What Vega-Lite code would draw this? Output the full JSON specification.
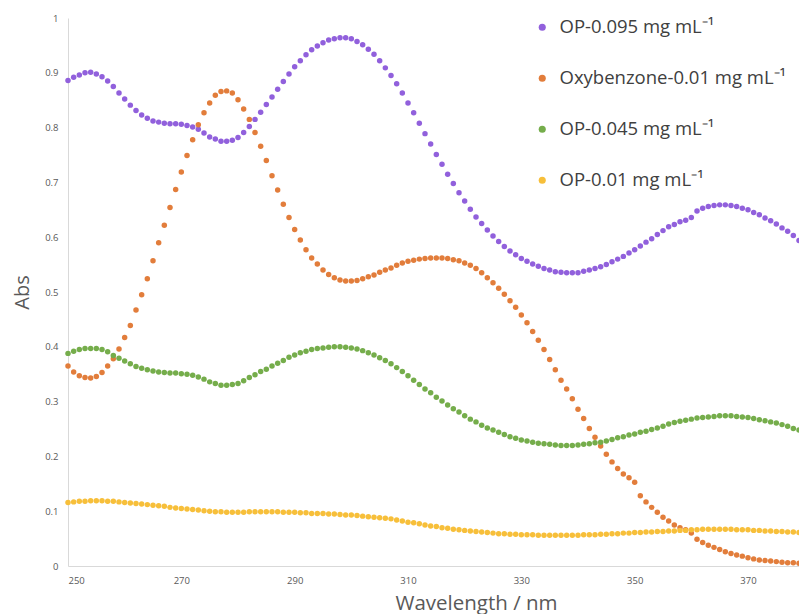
{
  "$schema": "https://vega.github.io/schema/vega-lite/v6.json",
  "width": 731,
  "height": 548,
  "autosize": "none",
  "padding": {"left": 68, "top": 18, "right": 0, "bottom": 48},
  "background": "white",
  "config": {
    "view": {"stroke": null},
    "font": "Open Sans"
  },
  "datasets": {
    "op095": [
      {"nm":250,"abs":0.886},{"nm":251,"abs":0.892},{"nm":252,"abs":0.896},{"nm":253,"abs":0.900},{"nm":254,"abs":0.901},
      {"nm":255,"abs":0.898},{"nm":256,"abs":0.893},{"nm":257,"abs":0.885},{"nm":258,"abs":0.875},{"nm":259,"abs":0.863},
      {"nm":260,"abs":0.852},{"nm":261,"abs":0.841},{"nm":262,"abs":0.831},{"nm":263,"abs":0.823},{"nm":264,"abs":0.817},
      {"nm":265,"abs":0.812},{"nm":266,"abs":0.810},{"nm":267,"abs":0.808},{"nm":268,"abs":0.807},{"nm":269,"abs":0.807},
      {"nm":270,"abs":0.806},{"nm":271,"abs":0.804},{"nm":272,"abs":0.801},{"nm":273,"abs":0.797},{"nm":274,"abs":0.790},
      {"nm":275,"abs":0.783},{"nm":276,"abs":0.779},{"nm":277,"abs":0.775},{"nm":278,"abs":0.775},{"nm":279,"abs":0.777},
      {"nm":280,"abs":0.782},{"nm":281,"abs":0.791},{"nm":282,"abs":0.802},{"nm":283,"abs":0.815},{"nm":284,"abs":0.828},
      {"nm":285,"abs":0.842},{"nm":286,"abs":0.856},{"nm":287,"abs":0.870},{"nm":288,"abs":0.884},{"nm":289,"abs":0.898},
      {"nm":290,"abs":0.911},{"nm":291,"abs":0.922},{"nm":292,"abs":0.933},{"nm":293,"abs":0.942},{"nm":294,"abs":0.949},
      {"nm":295,"abs":0.955},{"nm":296,"abs":0.960},{"nm":297,"abs":0.962},{"nm":298,"abs":0.964},{"nm":299,"abs":0.964},
      {"nm":300,"abs":0.962},{"nm":301,"abs":0.957},{"nm":302,"abs":0.951},{"nm":303,"abs":0.943},{"nm":304,"abs":0.934},
      {"nm":305,"abs":0.922},{"nm":306,"abs":0.909},{"nm":307,"abs":0.895},{"nm":308,"abs":0.880},{"nm":309,"abs":0.863},
      {"nm":310,"abs":0.845},{"nm":311,"abs":0.827},{"nm":312,"abs":0.808},{"nm":313,"abs":0.789},{"nm":314,"abs":0.770},
      {"nm":315,"abs":0.751},{"nm":316,"abs":0.733},{"nm":317,"abs":0.715},{"nm":318,"abs":0.698},{"nm":319,"abs":0.681},
      {"nm":320,"abs":0.666},{"nm":321,"abs":0.651},{"nm":322,"abs":0.637},{"nm":323,"abs":0.625},{"nm":324,"abs":0.613},
      {"nm":325,"abs":0.602},{"nm":326,"abs":0.592},{"nm":327,"abs":0.583},{"nm":328,"abs":0.575},{"nm":329,"abs":0.568},
      {"nm":330,"abs":0.561},{"nm":331,"abs":0.556},{"nm":332,"abs":0.551},{"nm":333,"abs":0.547},{"nm":334,"abs":0.543},
      {"nm":335,"abs":0.540},{"nm":336,"abs":0.537},{"nm":337,"abs":0.536},{"nm":338,"abs":0.535},{"nm":339,"abs":0.535},
      {"nm":340,"abs":0.535},{"nm":341,"abs":0.538},{"nm":342,"abs":0.540},{"nm":343,"abs":0.543},{"nm":344,"abs":0.546},
      {"nm":345,"abs":0.550},{"nm":346,"abs":0.555},{"nm":347,"abs":0.560},{"nm":348,"abs":0.565},{"nm":349,"abs":0.571},
      {"nm":350,"abs":0.577},{"nm":351,"abs":0.584},{"nm":352,"abs":0.591},{"nm":353,"abs":0.597},{"nm":354,"abs":0.605},
      {"nm":355,"abs":0.612},{"nm":356,"abs":0.619},{"nm":357,"abs":0.623},{"nm":358,"abs":0.628},{"nm":359,"abs":0.631},
      {"nm":360,"abs":0.636},{"nm":361,"abs":0.648},{"nm":362,"abs":0.653},{"nm":363,"abs":0.656},{"nm":364,"abs":0.658},
      {"nm":365,"abs":0.659},{"nm":366,"abs":0.659},{"nm":367,"abs":0.658},{"nm":368,"abs":0.656},{"nm":369,"abs":0.653},
      {"nm":370,"abs":0.650},{"nm":371,"abs":0.645},{"nm":372,"abs":0.641},{"nm":373,"abs":0.635},{"nm":374,"abs":0.630},
      {"nm":375,"abs":0.624},{"nm":376,"abs":0.617},{"nm":377,"abs":0.611},{"nm":378,"abs":0.603},{"nm":379,"abs":0.594}
    ],
    "oxybenzone": [
      {"nm":250,"abs":0.365},{"nm":251,"abs":0.354},{"nm":252,"abs":0.347},{"nm":253,"abs":0.344},{"nm":254,"abs":0.343},
      {"nm":255,"abs":0.346},{"nm":256,"abs":0.353},{"nm":257,"abs":0.365},{"nm":258,"abs":0.378},{"nm":259,"abs":0.396},
      {"nm":260,"abs":0.417},{"nm":261,"abs":0.439},{"nm":262,"abs":0.467},{"nm":263,"abs":0.495},{"nm":264,"abs":0.524},
      {"nm":265,"abs":0.557},{"nm":266,"abs":0.590},{"nm":267,"abs":0.622},{"nm":268,"abs":0.654},{"nm":269,"abs":0.687},
      {"nm":270,"abs":0.719},{"nm":271,"abs":0.749},{"nm":272,"abs":0.778},{"nm":273,"abs":0.805},{"nm":274,"abs":0.827},
      {"nm":275,"abs":0.845},{"nm":276,"abs":0.859},{"nm":277,"abs":0.866},{"nm":278,"abs":0.867},{"nm":279,"abs":0.863},
      {"nm":280,"abs":0.851},{"nm":281,"abs":0.834},{"nm":282,"abs":0.815},{"nm":283,"abs":0.791},{"nm":284,"abs":0.766},
      {"nm":285,"abs":0.740},{"nm":286,"abs":0.712},{"nm":287,"abs":0.686},{"nm":288,"abs":0.660},{"nm":289,"abs":0.636},
      {"nm":290,"abs":0.614},{"nm":291,"abs":0.595},{"nm":292,"abs":0.577},{"nm":293,"abs":0.562},{"nm":294,"abs":0.551},
      {"nm":295,"abs":0.540},{"nm":296,"abs":0.532},{"nm":297,"abs":0.526},{"nm":298,"abs":0.522},{"nm":299,"abs":0.520},
      {"nm":300,"abs":0.520},{"nm":301,"abs":0.521},{"nm":302,"abs":0.524},{"nm":303,"abs":0.528},{"nm":304,"abs":0.531},
      {"nm":305,"abs":0.536},{"nm":306,"abs":0.540},{"nm":307,"abs":0.544},{"nm":308,"abs":0.549},{"nm":309,"abs":0.553},
      {"nm":310,"abs":0.556},{"nm":311,"abs":0.558},{"nm":312,"abs":0.560},{"nm":313,"abs":0.561},{"nm":314,"abs":0.562},
      {"nm":315,"abs":0.562},{"nm":316,"abs":0.562},{"nm":317,"abs":0.561},{"nm":318,"abs":0.559},{"nm":319,"abs":0.557},
      {"nm":320,"abs":0.553},{"nm":321,"abs":0.549},{"nm":322,"abs":0.543},{"nm":323,"abs":0.535},{"nm":324,"abs":0.526},
      {"nm":325,"abs":0.517},{"nm":326,"abs":0.507},{"nm":327,"abs":0.496},{"nm":328,"abs":0.484},{"nm":329,"abs":0.472},
      {"nm":330,"abs":0.458},{"nm":331,"abs":0.444},{"nm":332,"abs":0.428},{"nm":333,"abs":0.412},{"nm":334,"abs":0.395},
      {"nm":335,"abs":0.377},{"nm":336,"abs":0.358},{"nm":337,"abs":0.339},{"nm":338,"abs":0.323},{"nm":339,"abs":0.305},
      {"nm":340,"abs":0.286},{"nm":341,"abs":0.269},{"nm":342,"abs":0.251},{"nm":343,"abs":0.235},{"nm":344,"abs":0.219},
      {"nm":345,"abs":0.204},{"nm":346,"abs":0.190},{"nm":347,"abs":0.178},{"nm":348,"abs":0.168},{"nm":349,"abs":0.161},
      {"nm":350,"abs":0.153},{"nm":351,"abs":0.128},{"nm":352,"abs":0.117},{"nm":353,"abs":0.107},{"nm":354,"abs":0.098},
      {"nm":355,"abs":0.089},{"nm":356,"abs":0.082},{"nm":357,"abs":0.075},{"nm":358,"abs":0.070},{"nm":359,"abs":0.066},
      {"nm":360,"abs":0.060},{"nm":361,"abs":0.049},{"nm":362,"abs":0.043},{"nm":363,"abs":0.038},{"nm":364,"abs":0.034},
      {"nm":365,"abs":0.030},{"nm":366,"abs":0.026},{"nm":367,"abs":0.023},{"nm":368,"abs":0.020},{"nm":369,"abs":0.018},
      {"nm":370,"abs":0.015},{"nm":371,"abs":0.013},{"nm":372,"abs":0.011},{"nm":373,"abs":0.010},{"nm":374,"abs":0.009},
      {"nm":375,"abs":0.008},{"nm":376,"abs":0.007},{"nm":377,"abs":0.006},{"nm":378,"abs":0.006},{"nm":379,"abs":0.005}
    ],
    "op045": [
      {"nm":250,"abs":0.388},{"nm":251,"abs":0.392},{"nm":252,"abs":0.395},{"nm":253,"abs":0.397},{"nm":254,"abs":0.397},
      {"nm":255,"abs":0.397},{"nm":256,"abs":0.395},{"nm":257,"abs":0.391},{"nm":258,"abs":0.384},{"nm":259,"abs":0.379},
      {"nm":260,"abs":0.374},{"nm":261,"abs":0.369},{"nm":262,"abs":0.364},{"nm":263,"abs":0.361},{"nm":264,"abs":0.358},
      {"nm":265,"abs":0.356},{"nm":266,"abs":0.354},{"nm":267,"abs":0.353},{"nm":268,"abs":0.352},{"nm":269,"abs":0.352},
      {"nm":270,"abs":0.351},{"nm":271,"abs":0.350},{"nm":272,"abs":0.348},{"nm":273,"abs":0.345},{"nm":274,"abs":0.341},
      {"nm":275,"abs":0.336},{"nm":276,"abs":0.333},{"nm":277,"abs":0.330},{"nm":278,"abs":0.330},{"nm":279,"abs":0.331},
      {"nm":280,"abs":0.333},{"nm":281,"abs":0.338},{"nm":282,"abs":0.344},{"nm":283,"abs":0.349},{"nm":284,"abs":0.355},
      {"nm":285,"abs":0.359},{"nm":286,"abs":0.365},{"nm":287,"abs":0.370},{"nm":288,"abs":0.375},{"nm":289,"abs":0.381},
      {"nm":290,"abs":0.385},{"nm":291,"abs":0.389},{"nm":292,"abs":0.392},{"nm":293,"abs":0.395},{"nm":294,"abs":0.397},
      {"nm":295,"abs":0.398},{"nm":296,"abs":0.399},{"nm":297,"abs":0.400},{"nm":298,"abs":0.400},{"nm":299,"abs":0.399},
      {"nm":300,"abs":0.398},{"nm":301,"abs":0.396},{"nm":302,"abs":0.393},{"nm":303,"abs":0.389},{"nm":304,"abs":0.385},
      {"nm":305,"abs":0.380},{"nm":306,"abs":0.375},{"nm":307,"abs":0.369},{"nm":308,"abs":0.362},{"nm":309,"abs":0.355},
      {"nm":310,"abs":0.347},{"nm":311,"abs":0.339},{"nm":312,"abs":0.331},{"nm":313,"abs":0.323},{"nm":314,"abs":0.316},
      {"nm":315,"abs":0.308},{"nm":316,"abs":0.301},{"nm":317,"abs":0.294},{"nm":318,"abs":0.287},{"nm":319,"abs":0.281},
      {"nm":320,"abs":0.274},{"nm":321,"abs":0.268},{"nm":322,"abs":0.263},{"nm":323,"abs":0.257},{"nm":324,"abs":0.252},
      {"nm":325,"abs":0.248},{"nm":326,"abs":0.244},{"nm":327,"abs":0.240},{"nm":328,"abs":0.236},{"nm":329,"abs":0.233},
      {"nm":330,"abs":0.230},{"nm":331,"abs":0.228},{"nm":332,"abs":0.226},{"nm":333,"abs":0.224},{"nm":334,"abs":0.223},
      {"nm":335,"abs":0.222},{"nm":336,"abs":0.221},{"nm":337,"abs":0.220},{"nm":338,"abs":0.220},{"nm":339,"abs":0.220},
      {"nm":340,"abs":0.221},{"nm":341,"abs":0.222},{"nm":342,"abs":0.223},{"nm":343,"abs":0.225},{"nm":344,"abs":0.226},
      {"nm":345,"abs":0.228},{"nm":346,"abs":0.231},{"nm":347,"abs":0.234},{"nm":348,"abs":0.236},{"nm":349,"abs":0.239},
      {"nm":350,"abs":0.241},{"nm":351,"abs":0.244},{"nm":352,"abs":0.246},{"nm":353,"abs":0.249},{"nm":354,"abs":0.252},
      {"nm":355,"abs":0.255},{"nm":356,"abs":0.259},{"nm":357,"abs":0.262},{"nm":358,"abs":0.264},{"nm":359,"abs":0.266},
      {"nm":360,"abs":0.268},{"nm":361,"abs":0.270},{"nm":362,"abs":0.271},{"nm":363,"abs":0.272},{"nm":364,"abs":0.273},
      {"nm":365,"abs":0.274},{"nm":366,"abs":0.274},{"nm":367,"abs":0.274},{"nm":368,"abs":0.273},{"nm":369,"abs":0.272},
      {"nm":370,"abs":0.271},{"nm":371,"abs":0.269},{"nm":372,"abs":0.267},{"nm":373,"abs":0.265},{"nm":374,"abs":0.263},
      {"nm":375,"abs":0.261},{"nm":376,"abs":0.258},{"nm":377,"abs":0.255},{"nm":378,"abs":0.251},{"nm":379,"abs":0.248}
    ],
    "op010": [
      {"nm":250,"abs":0.116},{"nm":251,"abs":0.117},{"nm":252,"abs":0.118},{"nm":253,"abs":0.118},{"nm":254,"abs":0.119},
      {"nm":255,"abs":0.119},{"nm":256,"abs":0.119},{"nm":257,"abs":0.118},{"nm":258,"abs":0.118},{"nm":259,"abs":0.117},
      {"nm":260,"abs":0.116},{"nm":261,"abs":0.115},{"nm":262,"abs":0.114},{"nm":263,"abs":0.113},{"nm":264,"abs":0.112},
      {"nm":265,"abs":0.111},{"nm":266,"abs":0.110},{"nm":267,"abs":0.109},{"nm":268,"abs":0.107},{"nm":269,"abs":0.106},
      {"nm":270,"abs":0.105},{"nm":271,"abs":0.104},{"nm":272,"abs":0.103},{"nm":273,"abs":0.102},{"nm":274,"abs":0.101},
      {"nm":275,"abs":0.100},{"nm":276,"abs":0.099},{"nm":277,"abs":0.099},{"nm":278,"abs":0.098},{"nm":279,"abs":0.098},
      {"nm":280,"abs":0.098},{"nm":281,"abs":0.098},{"nm":282,"abs":0.099},{"nm":283,"abs":0.099},{"nm":284,"abs":0.099},
      {"nm":285,"abs":0.099},{"nm":286,"abs":0.099},{"nm":287,"abs":0.099},{"nm":288,"abs":0.098},{"nm":289,"abs":0.098},
      {"nm":290,"abs":0.098},{"nm":291,"abs":0.097},{"nm":292,"abs":0.097},{"nm":293,"abs":0.096},{"nm":294,"abs":0.096},
      {"nm":295,"abs":0.096},{"nm":296,"abs":0.095},{"nm":297,"abs":0.095},{"nm":298,"abs":0.094},{"nm":299,"abs":0.093},
      {"nm":300,"abs":0.093},{"nm":301,"abs":0.092},{"nm":302,"abs":0.091},{"nm":303,"abs":0.090},{"nm":304,"abs":0.089},
      {"nm":305,"abs":0.088},{"nm":306,"abs":0.087},{"nm":307,"abs":0.086},{"nm":308,"abs":0.084},{"nm":309,"abs":0.082},
      {"nm":310,"abs":0.080},{"nm":311,"abs":0.079},{"nm":312,"abs":0.077},{"nm":313,"abs":0.075},{"nm":314,"abs":0.073},
      {"nm":315,"abs":0.072},{"nm":316,"abs":0.070},{"nm":317,"abs":0.069},{"nm":318,"abs":0.067},{"nm":319,"abs":0.066},
      {"nm":320,"abs":0.065},{"nm":321,"abs":0.064},{"nm":322,"abs":0.063},{"nm":323,"abs":0.062},{"nm":324,"abs":0.061},
      {"nm":325,"abs":0.060},{"nm":326,"abs":0.059},{"nm":327,"abs":0.059},{"nm":328,"abs":0.058},{"nm":329,"abs":0.058},
      {"nm":330,"abs":0.057},{"nm":331,"abs":0.057},{"nm":332,"abs":0.057},{"nm":333,"abs":0.056},{"nm":334,"abs":0.056},
      {"nm":335,"abs":0.056},{"nm":336,"abs":0.056},{"nm":337,"abs":0.056},{"nm":338,"abs":0.056},{"nm":339,"abs":0.056},
      {"nm":340,"abs":0.056},{"nm":341,"abs":0.057},{"nm":342,"abs":0.057},{"nm":343,"abs":0.057},{"nm":344,"abs":0.058},
      {"nm":345,"abs":0.058},{"nm":346,"abs":0.059},{"nm":347,"abs":0.059},{"nm":348,"abs":0.060},{"nm":349,"abs":0.060},
      {"nm":350,"abs":0.061},{"nm":351,"abs":0.061},{"nm":352,"abs":0.062},{"nm":353,"abs":0.062},{"nm":354,"abs":0.063},
      {"nm":355,"abs":0.063},{"nm":356,"abs":0.064},{"nm":357,"abs":0.064},{"nm":358,"abs":0.065},{"nm":359,"abs":0.065},
      {"nm":360,"abs":0.066},{"nm":361,"abs":0.066},{"nm":362,"abs":0.067},{"nm":363,"abs":0.067},{"nm":364,"abs":0.067},
      {"nm":365,"abs":0.067},{"nm":366,"abs":0.067},{"nm":367,"abs":0.067},{"nm":368,"abs":0.066},{"nm":369,"abs":0.066},
      {"nm":370,"abs":0.066},{"nm":371,"abs":0.065},{"nm":372,"abs":0.065},{"nm":373,"abs":0.064},{"nm":374,"abs":0.064},
      {"nm":375,"abs":0.063},{"nm":376,"abs":0.063},{"nm":377,"abs":0.062},{"nm":378,"abs":0.062},{"nm":379,"abs":0.061}
    ]
  },
  "encoding": {
    "x": {
      "field": "nm",
      "type": "quantitative",
      "scale": {"domain": [250, 379], "nice": false, "zero": false},
      "axis": {
        "title": "Wavelength / nm",
        "values": [250, 270, 290, 310, 330, 350, 370],
        "grid": false,
        "ticks": false,
        "domainColor": "#d9d9d9",
        "domainWidth": 1,
        "labelFontSize": 9.5,
        "labelColor": "#595959",
        "labelPadding": 9,
        "titleFontSize": 20.5,
        "titleFontWeight": "normal",
        "titleColor": "#595959",
        "titleX": 408,
        "titleY": 27
      }
    },
    "y": {
      "field": "abs",
      "type": "quantitative",
      "scale": {"domain": [0, 1], "nice": false},
      "axis": {
        "title": "Abs",
        "values": [0, 0.1, 0.2, 0.3, 0.4, 0.5, 0.6, 0.7, 0.8, 0.9, 1],
        "format": ".1~f",
        "grid": false,
        "ticks": false,
        "domainColor": "#d9d9d9",
        "domainWidth": 1,
        "labelFontSize": 9.5,
        "labelColor": "#595959",
        "labelPadding": 10,
        "titleFontSize": 20,
        "titleFontWeight": "normal",
        "titleColor": "#595959",
        "titlePadding": 12
      }
    }
  },
  "layer": [
    {
      "data": {"name": "op095"},
      "mark": {"type": "circle", "size": 30, "opacity": 1},
      "encoding": {
        "color": {
          "datum": "OP-0.095 mg mL⁻¹",
          "type": "nominal",
          "scale": {
            "domain": ["OP-0.095 mg mL⁻¹", "Oxybenzone-0.01 mg mL⁻¹", " OP-0.045 mg mL⁻¹", "OP-0.01 mg mL⁻¹"],
            "range": ["#9160DC", "#E27D3B", "#75AD4B", "#F7BF3A"]
          },
          "legend": {
            "title": null,
            "orient": "none",
            "legendX": 465,
            "legendY": 0,
            "symbolType": "circle",
            "symbolSize": 50,
            "symbolStrokeWidth": 0,
            "labelFontSize": 18.5,
            "labelColor": "#404040",
            "labelLimit": 400,
            "labelOffset": 8,
            "rowPadding": 32,
            "padding": 0
          }
        }
      }
    },
    {
      "data": {"name": "oxybenzone"},
      "mark": {"type": "circle", "size": 30, "opacity": 1},
      "encoding": {"color": {"datum": "Oxybenzone-0.01 mg mL⁻¹", "type": "nominal"}}
    },
    {
      "data": {"name": "op045"},
      "mark": {"type": "circle", "size": 30, "opacity": 1},
      "encoding": {"color": {"datum": " OP-0.045 mg mL⁻¹", "type": "nominal"}}
    },
    {
      "data": {"name": "op010"},
      "mark": {"type": "circle", "size": 30, "opacity": 1},
      "encoding": {"color": {"datum": "OP-0.01 mg mL⁻¹", "type": "nominal"}}
    }
  ]
}
